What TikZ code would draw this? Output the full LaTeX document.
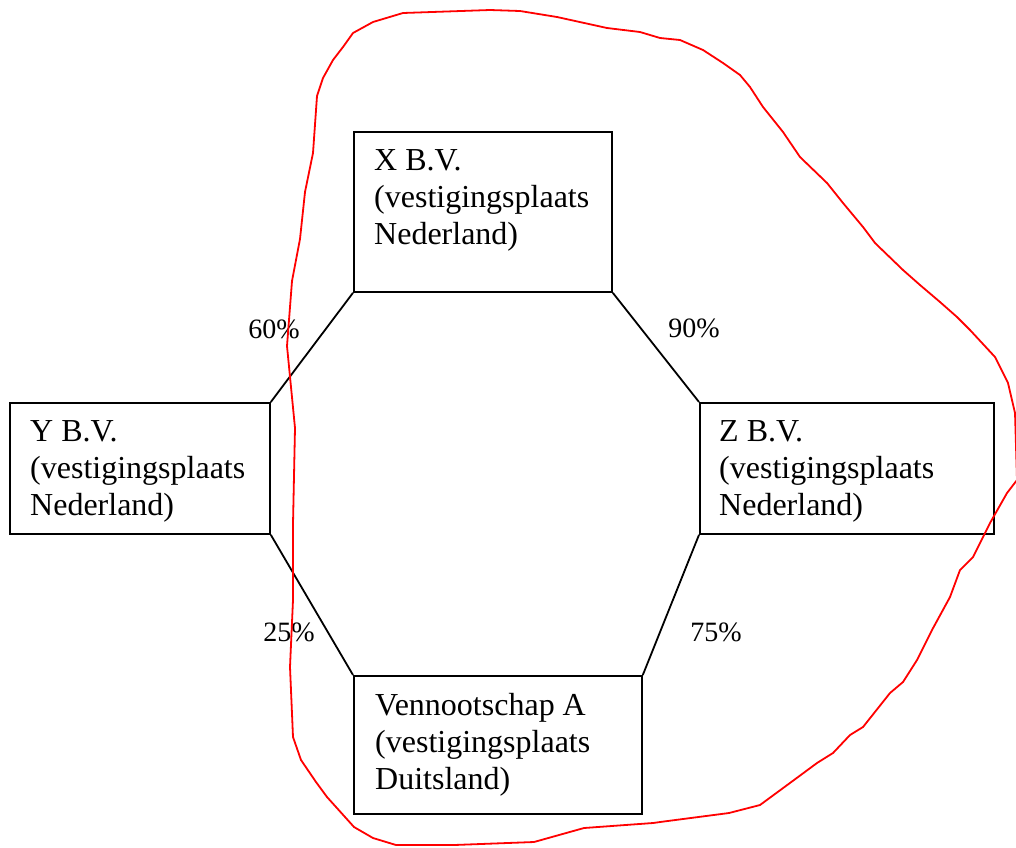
\documentclass[tikz,border=0pt]{standalone}
\usepackage{fontspec}
\setmainfont{Liberation Serif}
\usetikzlibrary{calc}
\begin{document}
\begin{tikzpicture}[x=1pt,y=-1pt,
  firm/.style={draw=black, line width=1.8pt, rectangle, inner sep=0pt, anchor=north west},
  firmtext/.style={anchor=base west, inner sep=0pt, align=left, font=\fontsize{32}{37}\selectfont},
  share/.style={anchor=base, inner sep=0pt, font=\fontsize{28}{33}\selectfont},
  link/.style={draw=black, line width=1.8pt},
  ring/.style={draw=red, line width=1.8pt, line join=round, line cap=round}]
\useasboundingbox (0,0) rectangle (1016,847);

% companies
\node[firm, minimum width=258pt, minimum height=160pt] (x) at (353,131) {};
\node[firm, minimum width=260pt, minimum height=131pt] (y) at (9,402) {};
\node[firm, minimum width=294pt, minimum height=131pt] (z) at (699,402) {};
\node[firm, minimum width=288pt, minimum height=138pt] (a) at (353,675) {};

% names (anchored on the baseline of the last line)
\node[firmtext] (xt) at ($(x.north west)+(21,113)$) {X B.V.\\(vestigingsplaats\\Nederland)};
\node[firmtext] (yt) at ($(y.north west)+(21,113)$) {Y B.V.\\(vestigingsplaats\\Nederland)};
\node[firmtext] (zt) at ($(z.north west)+(20,113)$) {Z B.V.\\(vestigingsplaats\\Nederland)};
\node[firmtext] (at) at ($(a.north west)+(22,114)$) {Vennootschap A\\(vestigingsplaats\\Duitsland)};

% shareholdings
\draw[link] (x.south west) -- (y.north east);
\draw[link] (x.south east) -- (z.north west);
\draw[link] (y.south east) -- (a.north west);
\draw[link] (z.south west) -- (a.north east);

\node[share] (p60) at (274,338) {60\%};
\node[share] (p90) at (694,337) {90\%};
\node[share] (p25) at (289,641) {25\%};
\node[share] (p75) at (716,641) {75\%};

% freehand outline
\draw[ring] (317,96) -- (323,78) -- (333,60) -- (343,47) -- (353,33) -- (373,22)
  -- (403,13) -- (490,10) -- (520,11) -- (557,17) -- (607,28) -- (640,32)
  -- (660,38) -- (680,40) -- (703,50) -- (723,63) -- (740,75) -- (750,87)
  -- (763,107) -- (783,132) -- (800,157) -- (827,183) -- (843,203) -- (863,227)
  -- (875,243) -- (903,270) -- (920,285) -- (940,302) -- (957,317) -- (970,330)
  -- (995,357) -- (1008,383) -- (1015,413) -- (1017,480) -- (1007,493)
  -- (990,523) -- (973,557) -- (960,570) -- (950,597) -- (932,630) -- (917,660)
  -- (903,682) -- (890,693) -- (863,727) -- (850,735) -- (833,753) -- (817,763)
  -- (794,780) -- (760,805) -- (729,813) -- (660,822) -- (653,823) -- (584,828)
  -- (534,842) -- (454,845) -- (396,845) -- (373,838) -- (354,827) -- (327,797)
  -- (316,782) -- (301,760) -- (293,737) -- (290,667) -- (293,600) -- (293,524)
  -- (295,428) -- (287,346) -- (292,281) -- (300,239) -- (305,192) -- (313,153)
  -- cycle;
\end{tikzpicture}
\end{document}
